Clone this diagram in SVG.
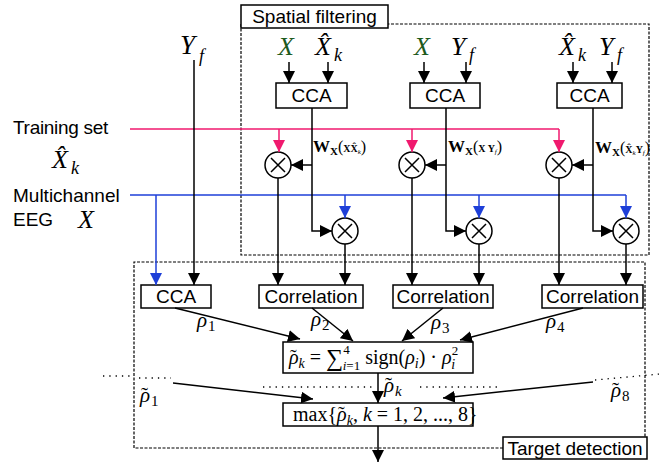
<svg xmlns="http://www.w3.org/2000/svg" width="662" height="464" viewBox="0 0 662 464">
<style>
.box{fill:#fff;stroke:#000;stroke-width:1.5}
.lbl{font-family:"Liberation Sans",Arial,sans-serif;font-size:19px;fill:#000}
.m{font-family:"Liberation Serif","Times New Roman",serif;font-style:italic;fill:#000}
.r{font-family:"Liberation Serif","Times New Roman",serif;fill:#000}
.wb{font-family:"Liberation Serif","Times New Roman",serif;font-weight:bold;fill:#000}
.ln{stroke:#000;stroke-width:1.5;fill:none}
.pk{stroke:#f0196e;stroke-width:1.5;fill:none}
.bl{stroke:#1e3fd8;stroke-width:1.5;fill:none}
.dash{stroke:#000;stroke-width:1.2;fill:none;stroke-dasharray:3,1.5}
.dot{stroke:#000;stroke-width:1.3;fill:none;stroke-dasharray:1.3,5}
.g{fill:#1d5a1d}
</style>
<defs>
<marker id="ak" markerUnits="userSpaceOnUse" markerWidth="14" markerHeight="12" refX="12" refY="6" orient="auto"><path d="M0,0 L12,6 L0,12 z" fill="#000"/></marker>
<marker id="ap" markerUnits="userSpaceOnUse" markerWidth="14" markerHeight="12" refX="12" refY="6" orient="auto"><path d="M0,0 L12,6 L0,12 z" fill="#f0196e"/></marker>
<marker id="ab" markerUnits="userSpaceOnUse" markerWidth="14" markerHeight="12" refX="12" refY="6" orient="auto"><path d="M0,0 L12,6 L0,12 z" fill="#1e3fd8"/></marker>
</defs>

<g id="spatial-filtering">
<path class="dash" d="M241,24 V255 H649 V24 H388"/>
<rect class="box" x="241" y="5" width="147" height="23"/>
<text class="lbl" x="314.5" y="23" text-anchor="middle">Spatial filtering</text>
</g>
<g id="target-detection">
<path class="dash" d="M503,448 H134 V262 H645 V437"/>
<rect class="box" x="503" y="437" width="144" height="22"/>
<text class="lbl" x="575" y="455" text-anchor="middle">Target detection</text>
</g>

<g id="input-yf">
<text class="m" x="180" y="54" font-size="27">Y</text><text class="m" x="199" y="62" font-size="18">f</text>
</g>
<g id="input-training">
<text class="lbl" x="13" y="134" letter-spacing="-0.3">Training set</text>
<text class="m" x="52" y="168" font-size="26">X̂</text><text class="m" x="71" y="174" font-size="18">k</text>
</g>
<g id="input-eeg">
<text class="lbl" x="13" y="202">Multichannel</text>
<text class="lbl" x="13" y="226">EEG</text>
<text class="m" x="78" y="228" font-size="26">X</text>
</g>

<g id="cca1">
<text class="m g" x="278" y="55" font-size="26">X</text>
<text class="m" x="315" y="55" font-size="26">X̂</text><text class="m" x="334" y="61" font-size="18">k</text>
<rect class="box" x="276" y="83" width="71" height="25"/>
<text class="lbl" x="311.5" y="102" text-anchor="middle">CCA</text>
</g>
<g id="cca2">
<text class="m g" x="414" y="55" font-size="26">X</text>
<text class="m" x="451" y="55" font-size="26">Y</text><text class="m" x="469" y="61" font-size="18">f</text>
<rect class="box" x="410" y="83" width="70" height="25"/>
<text class="lbl" x="445" y="102" text-anchor="middle">CCA</text>
</g>
<g id="cca3">
<text class="m" x="559" y="55" font-size="26">X̂</text><text class="m" x="578" y="61" font-size="18">k</text>
<text class="m" x="599" y="55" font-size="26">Y</text><text class="m" x="617" y="61" font-size="18">f</text>
<rect class="box" x="557" y="83" width="65" height="25"/>
<text class="lbl" x="589.5" y="102" text-anchor="middle">CCA</text>
</g>

<g id="w-labels">
<text x="313" y="152"><tspan class="wb" font-size="17">W</tspan><tspan class="wb" font-size="11" dy="3">X</tspan><tspan class="r" font-size="16" dy="-3">(</tspan><tspan class="wb" font-size="10">XX̂</tspan><tspan class="m" font-size="7" dy="2">k</tspan><tspan class="r" font-size="16" dy="-2">)</tspan></text>
<text x="448" y="152"><tspan class="wb" font-size="17">W</tspan><tspan class="wb" font-size="11" dy="3">X</tspan><tspan class="r" font-size="16" dy="-3">(</tspan><tspan class="wb" font-size="10">X Y</tspan><tspan class="m" font-size="7" dy="2">f</tspan><tspan class="r" font-size="16" dy="-2">)</tspan></text>
<text x="595" y="153"><tspan class="wb" font-size="17">W</tspan><tspan class="wb" font-size="11" dy="3">X</tspan><tspan class="r" font-size="16" dy="-3">(</tspan><tspan class="wb" font-size="10">X̂</tspan><tspan class="m" font-size="7" dy="2">k</tspan><tspan class="wb" font-size="10" dy="-2">Y</tspan><tspan class="m" font-size="7" dy="2">f</tspan><tspan class="r" font-size="16" dy="-2">)</tspan></text>
</g>

<g id="mult-a1"><circle class="ln" cx="278" cy="165" r="13" fill="#fff"/><path class="ln" d="M271,158 L285,172 M285,158 L271,172"/></g>
<g id="mult-a2"><circle class="ln" cx="412" cy="165" r="13" fill="#fff"/><path class="ln" d="M405,158 L419,172 M419,158 L405,172"/></g>
<g id="mult-a3"><circle class="ln" cx="559" cy="165" r="13" fill="#fff"/><path class="ln" d="M552,158 L566,172 M566,158 L552,172"/></g>
<g id="mult-b1"><circle class="ln" cx="345" cy="231" r="13" fill="#fff"/><path class="ln" d="M338,224 L352,238 M352,224 L338,238"/></g>
<g id="mult-b2"><circle class="ln" cx="479" cy="231" r="13" fill="#fff"/><path class="ln" d="M472,224 L486,238 M486,224 L472,238"/></g>
<g id="mult-b3"><circle class="ln" cx="626" cy="231" r="13" fill="#fff"/><path class="ln" d="M619,224 L633,238 M633,224 L619,238"/></g>

<g id="cca-direct"><rect class="box" x="141" y="285" width="70" height="23"/><text class="lbl" x="176" y="303" text-anchor="middle">CCA</text></g>
<g id="corr1"><rect class="box" x="259" y="285" width="104" height="23"/><text class="lbl" x="311" y="303" text-anchor="middle">Correlation</text></g>
<g id="corr2"><rect class="box" x="393" y="285" width="100" height="23"/><text class="lbl" x="443" y="303" text-anchor="middle">Correlation</text></g>
<g id="corr3"><rect class="box" x="542" y="285" width="101" height="23"/><text class="lbl" x="592.5" y="303" text-anchor="middle">Correlation</text></g>

<g id="fusion">
<rect class="box" x="283" y="342" width="190" height="31"/>
<text class="r" x="290" y="364" font-size="20">˜</text>
<text x="289" y="364" font-size="20"><tspan class="m">ρ</tspan><tspan class="m" font-size="14" dy="4">k</tspan><tspan class="r" dy="-4"> = </tspan><tspan class="r" font-size="24" dy="2">∑</tspan><tspan class="r" font-size="13" dy="-12">4</tspan><tspan class="m" font-size="13" dx="-7" dy="16">i</tspan><tspan class="r" font-size="13">=1</tspan><tspan class="r" dy="-6"> sign(</tspan><tspan class="m">ρ</tspan><tspan class="m" font-size="14" dy="4">i</tspan><tspan class="r" dy="-4">) · </tspan><tspan class="m">ρ</tspan><tspan class="r" font-size="13" dy="-9">2</tspan><tspan class="m" font-size="14" dx="-7" dy="14">i</tspan></text>
</g>
<g id="argmax">
<rect class="box" x="283" y="403" width="190" height="23"/>
<text class="r" x="338" y="421" font-size="20">˜</text>
<text x="293" y="421" font-size="20"><tspan class="r">max{</tspan><tspan class="m">ρ</tspan><tspan class="m" font-size="14" dy="4">k</tspan><tspan class="r" dy="-4">, </tspan><tspan class="m">k</tspan><tspan class="r"> = 1, 2, ..., 8}</tspan></text>
</g>

<g id="connectors">
<path class="pk" d="M130,129 H559"/>
<path class="pk" d="M279,129 V152" marker-end="url(#ap)"/>
<path class="pk" d="M412,129 V152" marker-end="url(#ap)"/>
<path class="pk" d="M559,129 V152" marker-end="url(#ap)"/>
<path class="bl" d="M130,195 H626"/>
<path class="bl" d="M156,195 V285" marker-end="url(#ab)"/>
<path class="bl" d="M345,195 V218" marker-end="url(#ab)"/>
<path class="bl" d="M479,195 V218" marker-end="url(#ab)"/>
<path class="bl" d="M626,195 V218" marker-end="url(#ab)"/>
<path class="ln" d="M194,60 V285" marker-end="url(#ak)"/>
<path class="ln" d="M289,62 V83" marker-end="url(#ak)"/>
<path class="ln" d="M328,62 V83" marker-end="url(#ak)"/>
<path class="ln" d="M424,62 V83" marker-end="url(#ak)"/>
<path class="ln" d="M466,62 V83" marker-end="url(#ak)"/>
<path class="ln" d="M573,62 V83" marker-end="url(#ak)"/>
<path class="ln" d="M612,62 V83" marker-end="url(#ak)"/>
<path class="ln" d="M312,108 V231 H332" marker-end="url(#ak)"/>
<path class="ln" d="M312,165 H291" marker-end="url(#ak)"/>
<path class="ln" d="M446,108 V231 H466" marker-end="url(#ak)"/>
<path class="ln" d="M446,165 H425" marker-end="url(#ak)"/>
<path class="ln" d="M593,108 V231 H613" marker-end="url(#ak)"/>
<path class="ln" d="M593,165 H572" marker-end="url(#ak)"/>
<path class="ln" d="M278,178 V285" marker-end="url(#ak)"/>
<path class="ln" d="M345,244 V285" marker-end="url(#ak)"/>
<path class="ln" d="M412,178 V285" marker-end="url(#ak)"/>
<path class="ln" d="M479,244 V285" marker-end="url(#ak)"/>
<path class="ln" d="M559,178 V285" marker-end="url(#ak)"/>
<path class="ln" d="M626,244 V285" marker-end="url(#ak)"/>
<path class="ln" d="M175,308 L300,339" marker-end="url(#ak)"/>
<path class="ln" d="M312,308 L353,341" marker-end="url(#ak)"/>
<path class="ln" d="M443,308 L402,341" marker-end="url(#ak)"/>
<path class="ln" d="M583,308 L460,340" marker-end="url(#ak)"/>
<path class="ln" d="M378,373 V403" marker-end="url(#ak)"/>
<path class="ln" d="M378,426 V462" marker-end="url(#ak)"/>
<path class="ln" d="M173,383 L313,399" marker-end="url(#ak)"/>
<path class="ln" d="M593,382 L443,398" marker-end="url(#ak)"/>
<path class="dot" d="M103,376 H130"/>
<path class="dot" d="M139,378 H171"/>
<path class="dot" d="M263,387 H374"/>
<path class="dot" d="M420,387 H498"/>
<path class="dot" d="M595,380 L660,374"/>
<text class="r" x="141" y="402" font-size="21">˜</text><text class="m" x="140" y="402" font-size="21">ρ</text><text class="r" x="151" y="406" font-size="15">1</text>
<text class="r" x="612" y="397" font-size="21">˜</text><text class="m" x="611" y="397" font-size="21">ρ</text><text class="r" x="622" y="401" font-size="15">8</text>
<text class="r" x="385" y="392" font-size="21">˜</text><text class="m" x="384" y="392" font-size="21">ρ</text><text class="m" x="395" y="396" font-size="15">k</text>
<text class="m" x="197" y="327" font-size="21">ρ</text><text class="r" x="208" y="331" font-size="15">1</text>
<text class="m" x="311" y="326" font-size="21">ρ</text><text class="r" x="322" y="330" font-size="15">2</text>
<text class="m" x="431" y="329" font-size="21">ρ</text><text class="r" x="442" y="333" font-size="15">3</text>
<text class="m" x="546" y="328" font-size="21">ρ</text><text class="r" x="557" y="332" font-size="15">4</text>
</g>
</svg>
